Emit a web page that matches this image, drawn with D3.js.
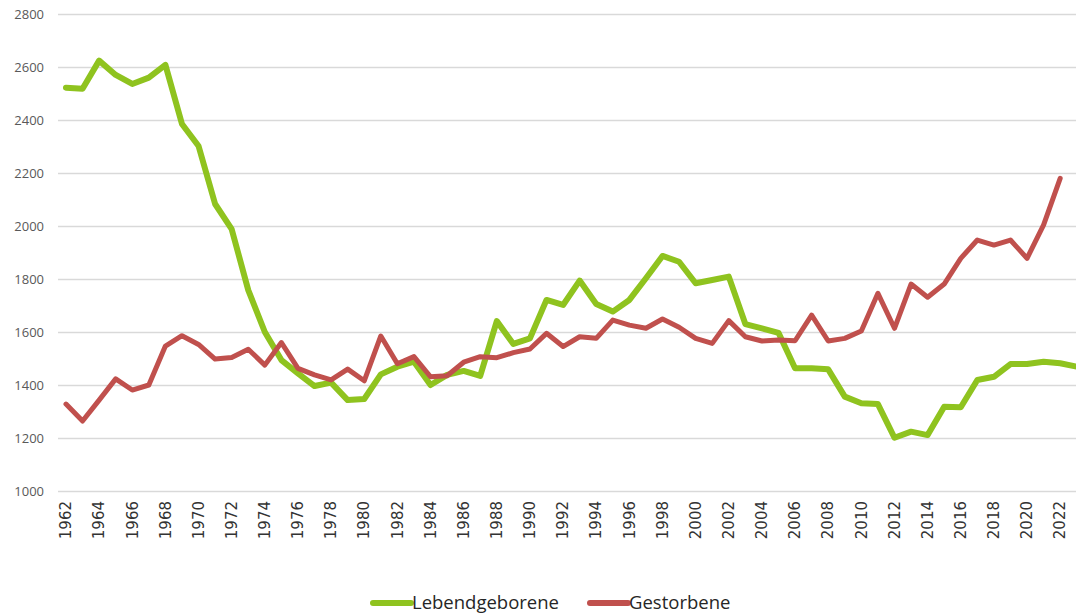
<!DOCTYPE html>
<html>

<head>
  <title>Lebendgeborene und Gestorbene</title>
  <style>
    body {
      margin: 0;
      background: #fff;
      font-family: "Open Sans", sans-serif;
    }
  </style>
  <script src="https://d3js.org/d3.v7.min.js"></script>
</head>

<body>
  <div id="chart"></div>
  <script>
    // years on the category axis
    const years = d3.range(1962, 2024);
    const yTicks = [1000, 1200, 1400, 1600, 1800, 2000, 2200, 2400, 2600, 2800];

    const births = [
      2522, 2518, 2624, 2570, 2536, 2560, 2608, 2385, 2302, 2083,
      1988, 1758, 1600, 1494, 1444, 1396, 1409, 1343, 1347, 1440,
      1469, 1488, 1400, 1438, 1453, 1434, 1641, 1555, 1576, 1721,
      1702, 1794, 1706, 1677, 1721, 1803, 1887, 1865, 1784, 1796,
      1809, 1630, 1614, 1597, 1463, 1463, 1459, 1356, 1331, 1328,
      1201, 1224, 1211, 1318, 1316, 1419, 1431, 1479, 1479, 1488,
      1482, 1469
    ];

    const deaths = [
      1328, 1264, 1343, 1423, 1381, 1400, 1547, 1586, 1553, 1498,
      1504, 1535, 1475, 1560, 1463, 1438, 1419, 1460, 1416, 1585,
      1480, 1507, 1431, 1435, 1486, 1507, 1503, 1522, 1536, 1595,
      1545, 1582, 1576, 1645, 1626, 1614, 1649, 1618, 1576, 1557,
      1643, 1582, 1566, 1570, 1567, 1664, 1566, 1576, 1604, 1746,
      1614, 1781, 1731, 1781, 1878, 1947, 1928, 1947, 1878, 2004,
      2180, null
    ];

    const seriesNames = ["Lebendgeborene", "Gestorbene"];
    const seriesColors = ["#8fc31f", "#c0504d"];

    const W = 1076, H = 613;

    const svg = d3.select("#chart")
      .append("svg")
      .attr("width", W)
      .attr("height", H);

    // plot area runs a bit past the right edge, like the cropped original
    const x = d3.scaleBand().domain(years).range([57.7, 57.7 + 62 * 16.57]).padding(0);
    const y = d3.scaleLinear().domain([1000, 2800]).range([491, 14]);
    const cx = d => x(d) + x.bandwidth() / 2;

    // gridlines + y labels
    const yAxis = d3.axisLeft(y)
      .tickValues(yTicks)
      .tickFormat(d3.format("d"))
      .tickSize(-(W - 58))
      .tickPadding(14);
    svg.append("g")
      .attr("transform", "translate(58,0)")
      .call(yAxis)
      .call(g => g.select(".domain").remove())
      .call(g => g.selectAll("line").attr("stroke", "#d9d9d9").attr("stroke-width", 1.3))
      .call(g => g.selectAll("text")
        .attr("fill", "#595959")
        .style("font-family", "'Open Sans', sans-serif")
        .style("font-size", "13px"));

    // x labels, every second year, rotated
    const xAxis = d3.axisBottom(x)
      .tickValues(years.filter(d => (d - 1962) % 2 === 0))
      .tickSize(0)
      .tickPadding(0);
    svg.append("g")
      .attr("transform", "translate(0,491)")
      .call(xAxis)
      .call(g => g.select(".domain").remove())
      .call(g => g.selectAll("text")
        .attr("transform", "rotate(-90)")
        .attr("x", -10)
        .attr("y", 0)
        .attr("dy", "0.35em")
        .attr("text-anchor", "end")
        .attr("fill", "#333333")
        .style("font-family", "'DejaVu Sans', sans-serif")
        .style("font-size", "15px"));

    // lines
    const line = d3.line()
      .defined(d => d.value != null)
      .x(d => cx(d.year))
      .y(d => y(d.value));

    const grouped = [births, deaths].map((vals, i) => ({
      name: seriesNames[i],
      color: seriesColors[i],
      width: i === 0 ? 6 : 5,
      values: years.map((yr, j) => ({ year: yr, value: vals[j] }))
    }));

    svg.selectAll(".series")
      .data(grouped)
      .enter()
      .append("path")
      .attr("class", "series")
      .attr("d", d => line(d.values))
      .attr("fill", "none")
      .attr("stroke", d => d.color)
      .attr("stroke-width", d => d.width)
      .attr("stroke-linejoin", "round")
      .attr("stroke-linecap", "round");

    // legend
    const legendX = [373, 590];
    const legend = svg.selectAll(".legend")
      .data(grouped)
      .enter()
      .append("g")
      .attr("class", "legend")
      .attr("transform", (d, i) => "translate(" + legendX[i] + ",0)");

    legend.append("line")
      .attr("x1", 0).attr("x2", 38)
      .attr("y1", 603).attr("y2", 603)
      .attr("stroke", d => d.color)
      .attr("stroke-width", 6)
      .attr("stroke-linecap", "round");

    legend.append("text")
      .attr("x", 39)
      .attr("y", 609)
      .text(d => d.name)
      .attr("fill", "#262626")
      .style("font-family", "'Open Sans', sans-serif")
      .style("font-size", "18.5px");
  </script>
</body>

</html>
